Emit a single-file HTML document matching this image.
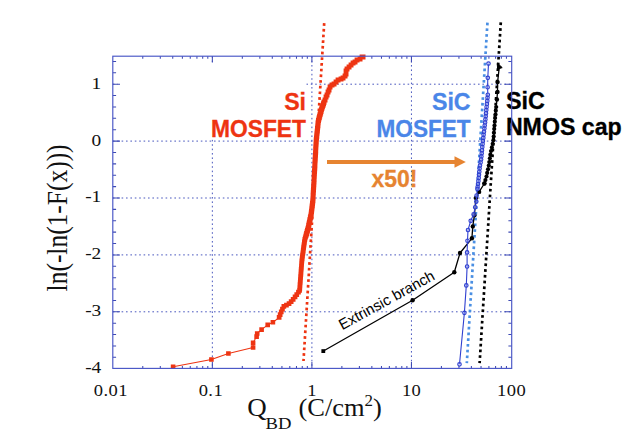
<!DOCTYPE html><html><head><meta charset="utf-8"><title>chart</title><style>html,body{margin:0;padding:0;background:#fff}svg{display:block}text{font-family:"Liberation Serif",serif;fill:#111}.s{font-family:"Liberation Sans",sans-serif;font-weight:bold}</style></head><body>
<svg width="640" height="438" viewBox="0 0 640 438">
<rect width="640" height="438" fill="#fff"/>
<path d="M112.8 84.20H511.7 M112.8 141.10H511.7 M112.8 198.00H511.7 M112.8 254.90H511.7 M112.8 311.80H511.7 M212.35 56.2V368.4 M311.90 56.2V368.4 M411.45 56.2V368.4" stroke="#3545b8" stroke-width="0.9" stroke-dasharray="1.6 2.8" fill="none"/>
<rect x="117.6" y="62.5" width="188.6" height="77" fill="#fff"/>
<path d="M112.8 357.32h3.3M511.7 357.32h-3.3 M112.8 345.94h3.3M511.7 345.94h-3.3 M112.8 334.56h3.3M511.7 334.56h-3.3 M112.8 323.18h3.3M511.7 323.18h-3.3 M112.8 311.80h7.2M511.7 311.80h-7.2 M112.8 300.42h3.3M511.7 300.42h-3.3 M112.8 289.04h3.3M511.7 289.04h-3.3 M112.8 277.66h3.3M511.7 277.66h-3.3 M112.8 266.28h3.3M511.7 266.28h-3.3 M112.8 254.90h7.2M511.7 254.90h-7.2 M112.8 243.52h3.3M511.7 243.52h-3.3 M112.8 232.14h3.3M511.7 232.14h-3.3 M112.8 220.76h3.3M511.7 220.76h-3.3 M112.8 209.38h3.3M511.7 209.38h-3.3 M112.8 198.00h7.2M511.7 198.00h-7.2 M112.8 186.62h3.3M511.7 186.62h-3.3 M112.8 175.24h3.3M511.7 175.24h-3.3 M112.8 163.86h3.3M511.7 163.86h-3.3 M112.8 152.48h3.3M511.7 152.48h-3.3 M112.8 141.10h7.2M511.7 141.10h-7.2 M112.8 129.72h3.3M511.7 129.72h-3.3 M112.8 118.34h3.3M511.7 118.34h-3.3 M112.8 106.96h3.3M511.7 106.96h-3.3 M112.8 95.58h3.3M511.7 95.58h-3.3 M112.8 84.20h7.2M511.7 84.20h-7.2 M112.8 72.82h3.3M511.7 72.82h-3.3 M112.8 61.44h3.3M511.7 61.44h-3.3 M142.77 56.2v2.5M142.77 368.4v-2.5 M160.30 56.2v2.5M160.30 368.4v-2.5 M172.74 56.2v2.5M172.74 368.4v-2.5 M182.38 56.2v2.5M182.38 368.4v-2.5 M190.26 56.2v2.5M190.26 368.4v-2.5 M196.93 56.2v2.5M196.93 368.4v-2.5 M202.70 56.2v2.5M202.70 368.4v-2.5 M207.79 56.2v2.5M207.79 368.4v-2.5 M212.35 56.2v6.4M212.35 368.4v-6.4 M242.32 56.2v2.5M242.32 368.4v-2.5 M259.85 56.2v2.5M259.85 368.4v-2.5 M272.29 56.2v2.5M272.29 368.4v-2.5 M281.93 56.2v2.5M281.93 368.4v-2.5 M289.81 56.2v2.5M289.81 368.4v-2.5 M296.48 56.2v2.5M296.48 368.4v-2.5 M302.25 56.2v2.5M302.25 368.4v-2.5 M307.34 56.2v2.5M307.34 368.4v-2.5 M311.90 56.2v6.4M311.90 368.4v-6.4 M341.87 56.2v2.5M341.87 368.4v-2.5 M359.40 56.2v2.5M359.40 368.4v-2.5 M371.84 56.2v2.5M371.84 368.4v-2.5 M381.48 56.2v2.5M381.48 368.4v-2.5 M389.36 56.2v2.5M389.36 368.4v-2.5 M396.03 56.2v2.5M396.03 368.4v-2.5 M401.80 56.2v2.5M401.80 368.4v-2.5 M406.89 56.2v2.5M406.89 368.4v-2.5 M411.45 56.2v6.4M411.45 368.4v-6.4 M441.42 56.2v2.5M441.42 368.4v-2.5 M458.95 56.2v2.5M458.95 368.4v-2.5 M471.39 56.2v2.5M471.39 368.4v-2.5 M481.03 56.2v2.5M481.03 368.4v-2.5 M488.91 56.2v2.5M488.91 368.4v-2.5 M495.58 56.2v2.5M495.58 368.4v-2.5 M501.35 56.2v2.5M501.35 368.4v-2.5 M506.44 56.2v2.5M506.44 368.4v-2.5" stroke="#3d49b4" stroke-width="1.05" fill="none"/>
<line x1="324.2" y1="23.2" x2="303.5" y2="361" stroke="#ee3412" stroke-width="2.7" stroke-dasharray="2.7 3.00"/>
<line x1="487.45" y1="22.6" x2="466.8" y2="363.2" stroke="#4a8fe3" stroke-width="2.7" stroke-dasharray="2.7 3.05"/>
<line x1="500.8" y1="22.4" x2="479.6" y2="363.2" stroke="#000" stroke-width="2.7" stroke-dasharray="2.7 3.05"/>
<polyline points="173.1,366.7 211.4,359.5 228.4,353.5 253.1,347.5 253.1,342.7 256.6,336.6 257.2,333.5 261.6,329.6 267.7,324.9 272.9,322.3 279.1,317.5 281.5,311.1 283.9,306.3 288.7,304.0 292.7,300.0 296.4,295.1 299.6,290.4 300.7,276.0 301.8,261.6 302.6,255.1 304.7,240.0 308.2,228.0 311.2,214.0 312.9,200.0 314.6,170.0 316.2,141.0 318.3,121.2 321.5,109.4 324.0,102.3 327.5,93.8 331.0,86.1 338.1,80.4 345.2,76.9 346.6,69.1 352.2,64.1 356.5,60.6 362.8,56.6" fill="none" stroke="#ee3412" stroke-width="1.05" stroke-linejoin="round"/>
<path d="M170.8 364.4h4.6v4.6h-4.6zM209.1 357.2h4.6v4.6h-4.6zM226.1 351.2h4.6v4.6h-4.6zM250.8 345.2h4.6v4.6h-4.6zM250.8 340.4h4.6v4.6h-4.6zM254.3 334.3h4.6v4.6h-4.6zM254.9 331.2h4.6v4.6h-4.6zM259.3 327.3h4.6v4.6h-4.6zM265.4 322.6h4.6v4.6h-4.6zM270.6 320.0h4.6v4.6h-4.6zM276.8 315.2h4.6v4.6h-4.6zM276.8 315.1h4.7v4.7h-4.7zM277.8 312.3h4.7v4.7h-4.7zM278.9 309.5h4.7v4.7h-4.7zM280.1 306.8h4.7v4.7h-4.7zM281.5 304.1h4.7v4.7h-4.7zM284.1 302.7h4.7v4.7h-4.7zM286.7 301.3h4.7v4.7h-4.7zM288.8 299.2h4.7v4.7h-4.7zM290.8 297.0h4.7v4.7h-4.7zM292.7 294.6h4.7v4.7h-4.7zM294.4 292.2h4.7v4.7h-4.7zM296.1 289.7h4.7v4.7h-4.7zM297.2 288.0h4.7v4.7h-4.7zM297.2 288.0h4.7v4.7h-4.7zM297.4 286.5h4.7v4.7h-4.7zM297.5 284.9h4.7v4.7h-4.7zM297.6 283.3h4.7v4.7h-4.7zM297.7 281.7h4.7v4.7h-4.7zM297.9 280.1h4.7v4.7h-4.7zM298.0 278.5h4.7v4.7h-4.7zM298.1 276.9h4.7v4.7h-4.7zM298.2 275.3h4.7v4.7h-4.7zM298.3 273.7h4.7v4.7h-4.7zM298.5 272.1h4.7v4.7h-4.7zM298.6 270.5h4.7v4.7h-4.7zM298.7 268.9h4.7v4.7h-4.7zM298.8 267.3h4.7v4.7h-4.7zM299.0 265.7h4.7v4.7h-4.7zM299.1 264.1h4.7v4.7h-4.7zM299.2 262.5h4.7v4.7h-4.7zM299.3 260.9h4.7v4.7h-4.7zM299.4 259.3h4.7v4.7h-4.7zM299.6 257.7h4.7v4.7h-4.7zM299.8 256.2h4.7v4.7h-4.7zM300.0 254.6h4.7v4.7h-4.7zM300.2 253.0h4.7v4.7h-4.7zM300.4 251.4h4.7v4.7h-4.7zM300.7 249.8h4.7v4.7h-4.7zM300.9 248.2h4.7v4.7h-4.7zM301.1 246.6h4.7v4.7h-4.7zM301.3 245.1h4.7v4.7h-4.7zM301.5 243.5h4.7v4.7h-4.7zM301.8 241.9h4.7v4.7h-4.7zM302.0 240.3h4.7v4.7h-4.7zM302.2 238.7h4.7v4.7h-4.7zM302.5 237.1h4.7v4.7h-4.7zM302.9 235.6h4.7v4.7h-4.7zM303.4 234.1h4.7v4.7h-4.7zM303.7 232.4h5.0v5.0h-5.0zM304.1 230.9h5.0v5.0h-5.0zM304.6 229.3h5.0v5.0h-5.0zM305.0 227.8h5.0v5.0h-5.0zM305.5 226.2h5.0v5.0h-5.0zM305.9 224.7h5.0v5.0h-5.0zM306.2 223.1h5.0v5.0h-5.0zM306.5 221.6h5.0v5.0h-5.0zM306.9 220.0h5.0v5.0h-5.0zM307.2 218.4h5.0v5.0h-5.0zM307.5 216.9h5.0v5.0h-5.0zM307.9 215.3h5.0v5.0h-5.0zM308.2 213.7h5.0v5.0h-5.0zM308.6 212.2h5.0v5.0h-5.0zM308.8 210.6h5.0v5.0h-5.0zM309.0 209.0h5.0v5.0h-5.0zM309.2 207.4h5.0v5.0h-5.0zM309.4 205.8h5.0v5.0h-5.0zM309.6 204.2h5.0v5.0h-5.0zM309.8 202.7h5.0v5.0h-5.0zM310.0 201.1h5.0v5.0h-5.0zM310.2 199.5h5.0v5.0h-5.0zM310.4 197.9h5.0v5.0h-5.0zM310.5 196.3h5.0v5.0h-5.0zM310.6 194.7h5.0v5.0h-5.0zM310.6 193.1h5.0v5.0h-5.0zM310.7 191.5h5.0v5.0h-5.0zM310.8 189.9h5.0v5.0h-5.0zM310.9 188.3h5.0v5.0h-5.0zM311.0 186.7h5.0v5.0h-5.0zM311.1 185.1h5.0v5.0h-5.0zM311.2 183.5h5.0v5.0h-5.0zM311.3 181.9h5.0v5.0h-5.0zM311.4 180.3h5.0v5.0h-5.0zM311.5 178.7h5.0v5.0h-5.0zM311.6 177.1h5.0v5.0h-5.0zM311.6 175.5h5.0v5.0h-5.0zM311.7 173.9h5.0v5.0h-5.0zM311.8 172.3h5.0v5.0h-5.0zM311.9 170.7h5.0v5.0h-5.0zM312.0 169.1h5.0v5.0h-5.0zM312.1 167.5h5.0v5.0h-5.0zM312.2 165.9h5.0v5.0h-5.0zM312.3 164.4h5.0v5.0h-5.0zM312.4 162.8h5.0v5.0h-5.0zM312.4 161.2h5.0v5.0h-5.0zM312.5 159.6h5.0v5.0h-5.0zM312.6 158.0h5.0v5.0h-5.0zM312.7 156.4h5.0v5.0h-5.0zM312.8 154.8h5.0v5.0h-5.0zM312.9 153.2h5.0v5.0h-5.0zM313.0 151.6h5.0v5.0h-5.0zM313.1 150.0h5.0v5.0h-5.0zM313.2 148.4h5.0v5.0h-5.0zM313.2 146.8h5.0v5.0h-5.0zM313.3 145.2h5.0v5.0h-5.0zM313.4 143.6h5.0v5.0h-5.0zM313.5 142.0h5.0v5.0h-5.0zM313.6 140.4h5.0v5.0h-5.0zM313.7 138.8h5.0v5.0h-5.0zM313.8 137.2h5.0v5.0h-5.0zM314.0 135.6h5.0v5.0h-5.0zM314.2 134.0h5.0v5.0h-5.0zM314.3 132.4h5.0v5.0h-5.0zM314.5 130.8h5.0v5.0h-5.0zM314.7 129.2h5.0v5.0h-5.0zM314.9 127.7h5.0v5.0h-5.0zM315.0 126.1h5.0v5.0h-5.0zM315.2 124.5h5.0v5.0h-5.0zM315.4 122.9h5.0v5.0h-5.0zM315.5 121.3h5.0v5.0h-5.0zM315.7 119.7h5.0v5.0h-5.0zM316.0 118.1h5.0v5.0h-5.0zM316.4 116.6h5.0v5.0h-5.0zM316.8 115.0h5.0v5.0h-5.0zM317.2 113.5h5.0v5.0h-5.0zM317.6 111.9h5.0v5.0h-5.0zM318.1 110.4h5.0v5.0h-5.0zM318.5 108.9h5.0v5.0h-5.0zM318.9 107.3h5.0v5.0h-5.0zM319.4 105.8h5.0v5.0h-5.0zM319.9 104.3h5.0v5.0h-5.0zM320.5 102.8h5.0v5.0h-5.0zM321.0 101.3h5.0v5.0h-5.0zM321.5 99.8h5.0v5.0h-5.0zM321.6 99.5h4.9v4.9h-4.9zM322.6 97.5h4.9v4.9h-4.9zM323.6 94.5h4.9v4.9h-4.9zM324.6 92.5h4.9v4.9h-4.9zM325.6 89.5h4.9v4.9h-4.9zM326.6 87.5h4.9v4.9h-4.9zM327.6 84.5h4.9v4.9h-4.9zM329.6 82.5h4.9v4.9h-4.9zM331.6 81.5h4.9v4.9h-4.9zM333.6 79.5h4.9v4.9h-4.9zM335.6 77.5h4.9v4.9h-4.9zM338.6 76.5h4.9v4.9h-4.9zM340.6 75.5h4.9v4.9h-4.9zM342.6 73.5h4.9v4.9h-4.9zM343.6 71.5h4.9v4.9h-4.9zM343.6 68.5h4.9v4.9h-4.9zM344.6 66.5h4.9v4.9h-4.9zM346.6 64.5h4.9v4.9h-4.9zM348.6 62.5h4.9v4.9h-4.9zM350.6 60.5h4.9v4.9h-4.9zM352.6 59.5h4.9v4.9h-4.9zM354.6 57.5h4.9v4.9h-4.9zM357.6 56.5h4.9v4.9h-4.9zM359.6 54.5h4.9v4.9h-4.9zM360.6 54.5h4.9v4.9h-4.9z" fill="#ee3412"/>
<polyline points="499.4,66.0 497.6,82.1 497.5,92.0 496.9,99.5 496.2,107.0 494.9,120.5 493.3,141.1 490.9,151.6 488.7,166.0 486.3,177.2 484.4,183.5 479.1,191.9 475.9,197.9 474.4,215.2 472.8,226.4 471.9,238.3 460.0,253.0 454.3,272.3 412.6,300.2 323.4,351.0" fill="none" stroke="#000" stroke-width="1.3" stroke-linejoin="round"/>
<g fill="#000"><circle cx="497.6" cy="82.1" r="2.2"/><circle cx="497.5" cy="92.0" r="2.2"/><circle cx="496.9" cy="99.5" r="2.2"/><circle cx="496.2" cy="107.0" r="2.1"/><circle cx="495.8" cy="110.7" r="2.1"/><circle cx="495.5" cy="114.4" r="2.1"/><circle cx="495.1" cy="118.0" r="2.1"/><circle cx="494.8" cy="121.7" r="2.1"/><circle cx="494.5" cy="125.4" r="2.1"/><circle cx="494.2" cy="129.1" r="2.1"/><circle cx="493.9" cy="132.8" r="2.1"/><circle cx="493.7" cy="136.5" r="2.1"/><circle cx="493.4" cy="140.2" r="2.1"/><circle cx="492.7" cy="143.8" r="2.1"/><circle cx="491.9" cy="147.4" r="2.1"/><circle cx="491.0" cy="151.0" r="2.1"/><circle cx="490.4" cy="154.7" r="2.1"/><circle cx="489.9" cy="158.3" r="2.1"/><circle cx="489.3" cy="162.0" r="2.1"/><circle cx="488.8" cy="165.6" r="2.1"/><circle cx="488.0" cy="169.3" r="2.1"/><circle cx="487.2" cy="172.9" r="2.1"/><circle cx="486.5" cy="176.5" r="2.1"/><circle cx="485.4" cy="180.1" r="2.1"/><circle cx="484.4" cy="183.5" r="2.1"/><circle cx="484.4" cy="183.5" r="2.2"/><circle cx="479.1" cy="191.9" r="2.2"/><circle cx="475.9" cy="197.9" r="2.2"/><circle cx="474.4" cy="215.2" r="2.2"/><circle cx="472.8" cy="226.4" r="2.2"/><circle cx="471.9" cy="238.3" r="2.2"/><circle cx="460.0" cy="253.0" r="2.2"/><circle cx="454.3" cy="272.3" r="2.2"/><circle cx="412.6" cy="300.2" r="2.2"/></g>
<path d="M497.3 63.2L502.2 67.6L497.6 69.2z" fill="#000" stroke="#000" stroke-width="1" stroke-linejoin="round"/>
<rect x="321.4" y="349.2" width="3.8" height="3.8" fill="#000"/>
<polyline points="488.5,63.6 487.8,77.8 487.6,87.2 487.8,94.7 487.4,99.5 486.7,106.2 485.3,120.5 482.9,141.1 481.2,159.0 479.9,166.0 478.3,182.0 477.4,189.0 476.6,195.5 476.3,201.6 475.2,207.2 473.6,214.4 470.7,220.8 468.0,230.0 467.5,240.7 467.1,252.4 467.1,266.5 466.3,285.4 464.4,312.8 459.5,364.3" fill="none" stroke="#2f3fd0" stroke-width="1.1" stroke-linejoin="round"/>
<g fill="#cfd6ff" fill-opacity="0.35" stroke="#2f3fd0" stroke-width="1.15"><circle cx="488.5" cy="63.6" r="1.75"/><circle cx="487.8" cy="77.8" r="1.75"/><circle cx="487.6" cy="87.2" r="1.75"/><circle cx="487.8" cy="94.7" r="1.75"/><circle cx="487.5" cy="97.8" r="1.75"/><circle cx="487.3" cy="100.9" r="1.75"/><circle cx="486.9" cy="104.0" r="1.75"/><circle cx="486.6" cy="107.0" r="1.75"/><circle cx="486.3" cy="110.1" r="1.75"/><circle cx="486.0" cy="113.2" r="1.75"/><circle cx="485.7" cy="116.3" r="1.75"/><circle cx="485.4" cy="119.4" r="1.75"/><circle cx="485.1" cy="122.5" r="1.75"/><circle cx="484.7" cy="125.5" r="1.75"/><circle cx="484.4" cy="128.6" r="1.75"/><circle cx="484.0" cy="131.7" r="1.75"/><circle cx="483.6" cy="134.8" r="1.75"/><circle cx="483.3" cy="137.9" r="1.75"/><circle cx="482.9" cy="140.9" r="1.75"/><circle cx="482.6" cy="144.0" r="1.75"/><circle cx="482.3" cy="147.1" r="1.75"/><circle cx="482.0" cy="150.2" r="1.75"/><circle cx="481.7" cy="153.3" r="1.75"/><circle cx="481.4" cy="156.4" r="1.75"/><circle cx="481.1" cy="159.5" r="1.75"/><circle cx="480.6" cy="162.5" r="1.75"/><circle cx="480.0" cy="165.5" r="1.75"/><circle cx="479.6" cy="168.6" r="1.75"/><circle cx="479.3" cy="171.7" r="1.75"/><circle cx="479.0" cy="174.8" r="1.75"/><circle cx="478.7" cy="177.9" r="1.75"/><circle cx="478.4" cy="181.0" r="1.75"/><circle cx="478.0" cy="184.0" r="1.75"/><circle cx="477.6" cy="187.1" r="1.75"/><circle cx="477.4" cy="189.0" r="1.75"/><circle cx="476.6" cy="195.5" r="1.75"/><circle cx="476.3" cy="201.6" r="1.75"/><circle cx="475.2" cy="207.2" r="1.75"/><circle cx="473.6" cy="214.4" r="1.75"/><circle cx="470.7" cy="220.8" r="1.75"/><circle cx="468.0" cy="230.0" r="1.75"/><circle cx="467.5" cy="240.7" r="1.75"/><circle cx="467.1" cy="252.4" r="1.75"/><circle cx="467.1" cy="266.5" r="1.75"/><circle cx="466.3" cy="285.4" r="1.75"/><circle cx="464.4" cy="312.8" r="1.75"/><circle cx="459.5" cy="364.3" r="1.75"/></g>
<path d="M327 162H456" stroke="#e68431" stroke-width="4.2" fill="none"/><path d="M454.5 156.2L465.8 162L454.5 167.8z" fill="#e68431"/>
<text class="s" text-anchor="end" font-size="23.4" style="fill:#ee3412;stroke:#ee3412;stroke-width:0.3" transform="translate(306.0,109.9) scale(0.99,1)">Si</text>
<text class="s" text-anchor="end" font-size="23.4" style="fill:#ee3412;stroke:#ee3412;stroke-width:0.3" transform="translate(306,136.6) scale(0.975,1)">MOSFET</text>
<text class="s" text-anchor="end" font-size="23.4" style="fill:#4a86e8;stroke:#4a86e8;stroke-width:0.3" transform="translate(470.6,110.0) scale(0.99,1)">SiC</text>
<text class="s" text-anchor="end" font-size="23.4" style="fill:#4a86e8;stroke:#4a86e8;stroke-width:0.3" transform="translate(470.6,136.6) scale(0.965,1)">MOSFET</text>
<text class="s" text-anchor="start" font-size="23.4" style="fill:#000;stroke:#000;stroke-width:0.3" transform="translate(505.9,109.3) scale(1.0,1)">SiC</text>
<text class="s" text-anchor="start" font-size="23.4" style="fill:#000;stroke:#000;stroke-width:0.3" transform="translate(505.9,135.2) scale(0.99,1)">NMOS cap</text>
<text class="s" text-anchor="start" font-size="23.4" style="fill:#e68431;stroke:#e68431;stroke-width:0.3" transform="translate(371.4,187) scale(0.985,1)">x50!</text>
<text x="0" y="0" font-size="15" style="font-family:'Liberation Sans',sans-serif;fill:#000" transform="translate(342.3,330.2) rotate(-28.7) scale(1.0,1)">Extrinsic branch</text>
<rect x="112.8" y="56.2" width="398.90" height="312.20" fill="none" stroke="#4855c6" stroke-width="1.15"/>
<text text-anchor="end" font-size="17" transform="translate(101.3,88.6) scale(1.14,1)">1</text>
<text text-anchor="end" font-size="17" transform="translate(101.3,145.5) scale(1.14,1)">0</text>
<text text-anchor="end" font-size="17" transform="translate(101.3,202.4) scale(1.14,1)">-1</text>
<text text-anchor="end" font-size="17" transform="translate(101.3,259.3) scale(1.14,1)">-2</text>
<text text-anchor="end" font-size="17" transform="translate(101.3,316.2) scale(1.14,1)">-3</text>
<text text-anchor="end" font-size="17" transform="translate(101.3,373.1) scale(1.14,1)">-4</text>
<text text-anchor="middle" font-size="17.5" letter-spacing="0.4" transform="translate(110.8,396) scale(1.06,1)">0.01</text>
<text text-anchor="middle" font-size="17.5" letter-spacing="0.4" transform="translate(210.9,396) scale(1.06,1)">0.1</text>
<text text-anchor="middle" font-size="17.5" letter-spacing="0.4" transform="translate(312.0,396) scale(1.06,1)">1</text>
<text text-anchor="middle" font-size="17.5" letter-spacing="0.4" transform="translate(411.6,396) scale(1.06,1)">10</text>
<text text-anchor="middle" font-size="17.5" letter-spacing="0.4" transform="translate(511.6,396) scale(1.06,1)">100</text>
<text font-size="29.2" text-anchor="middle" transform="translate(66.8,217.9) rotate(-90) scale(0.872,1)">ln(-ln(1-F(x)))</text>
<text font-size="25" transform="translate(247.3,415.8) scale(1.08,1)">Q</text>
<text font-size="16" transform="translate(265.6,429) scale(1.165,1)">BD</text>
<text font-size="25" transform="translate(298.4,416.1) scale(1.06,1)">(C/cm<tspan font-size="16" dy="-9.8">2</tspan><tspan dy="9.8">)</tspan></text>
</svg></body></html>
